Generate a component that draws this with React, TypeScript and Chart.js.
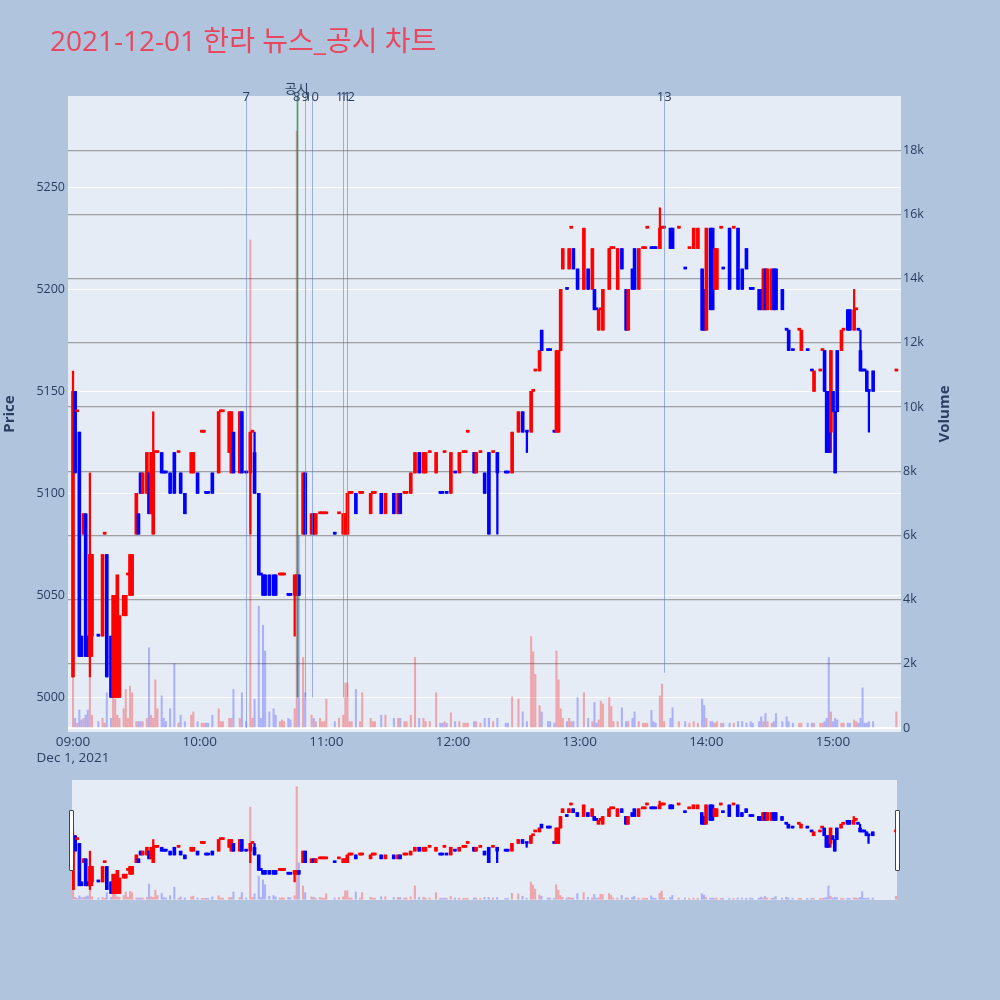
import React, { useEffect, useRef } from 'react';
import { Chart, registerables } from 'chart.js';

Chart.register(...registerables);

// ---------- data (minutes after 09:00) ----------
const chartTitle = '2021-12-01 한라 뉴스_공시 차트';

const minutes = [
  0, 1, 2, 3, 4, 5, 6, 7, 8, 9,
  12, 14, 15, 16, 18, 19, 20, 21, 22, 24,
  25, 26, 27, 28, 30, 31, 32, 33, 35, 36,
  37, 38, 39, 40, 42, 43, 44, 46, 48, 50,
  51, 53, 56, 57, 59, 61, 62, 63, 64, 66,
  69, 70, 71, 74, 75, 76, 79, 80, 82, 84,
  85, 86, 88, 89, 90, 91, 93, 95, 96, 98,
  99, 100, 102, 103, 105, 106, 107, 109, 110, 113,
  114, 115, 117, 118, 119, 120, 124, 126, 128, 129,
  130, 131, 132, 134, 136, 137, 141, 142, 143, 146,
  148, 152, 154, 155, 157, 158, 160, 162, 164, 166,
  167, 169, 172, 174, 175, 176, 177, 179, 181, 183,
  185, 186, 187, 190, 191, 193, 195, 197, 199, 201,
  205, 206, 208, 211, 213, 215, 217, 218, 219, 221,
  222, 225, 226, 228, 229, 230, 231, 232, 234, 235,
  236, 237, 239, 242, 244, 246, 247, 248, 249, 250,
  251, 254, 255, 256, 258, 260, 262, 263, 265, 266,
  268, 270, 271, 272, 274, 275, 276, 278, 279, 280,
  283, 284, 287, 290, 292, 294, 296, 298, 299, 300,
  302, 303, 304, 305, 307, 308, 311, 313, 315, 317,
  319, 321, 322, 325, 326, 327, 328, 329, 331, 332,
  333, 336, 338, 339, 341, 344, 345, 348, 350, 351,
  354, 355, 356, 357, 358, 359, 360, 361, 362, 364,
  365, 367, 368, 370, 371, 372, 373, 374, 375, 376,
  377, 379, 390,
];

const opens = [
  5010, 5150, 5140, 5130, 5030, 5080, 5090, 5030, 5020, 5030,
  5030, 5030, 5080, 5070, 5030, 5000, 5000, 5000, 5000, 5040,
  5040, 5060, 5050, 5050, 5080, 5090, 5110, 5100, 5100, 5110,
  5090, 5080, 5120, 5120, 5120, 5110, 5110, 5110, 5120, 5120,
  5110, 5100, 5110, 5110, 5110, 5130, 5130, 5100, 5100, 5110,
  5110, 5140, 5140, 5120, 5110, 5130, 5110, 5140, 5110, 5110,
  5130, 5120, 5100, 5060, 5060, 5060, 5060, 5060, 5060, 5060,
  5060, 5060, 5050, 5050, 5050, 5050, 5060, 5080, 5110, 5080,
  5090, 5080, 5090, 5090, 5090, 5090, 5080, 5090, 5080, 5080,
  5080, 5100, 5100, 5100, 5100, 5100, 5090, 5100, 5100, 5100,
  5090, 5100, 5090, 5100, 5100, 5100, 5100, 5110, 5120, 5110,
  5110, 5120, 5110, 5100, 5100, 5120, 5100, 5100, 5110, 5110,
  5120, 5120, 5130, 5120, 5110, 5120, 5110, 5120, 5120, 5120,
  5110, 5110, 5110, 5130, 5140, 5130, 5130, 5150, 5160, 5160,
  5180, 5170, 5170, 5130, 5130, 5130, 5170, 5210, 5200, 5210,
  5230, 5220, 5210, 5200, 5210, 5200, 5200, 5190, 5180, 5190,
  5180, 5200, 5220, 5220, 5200, 5220, 5200, 5180, 5210, 5220,
  5200, 5220, 5220, 5230, 5220, 5220, 5220, 5220, 5230, 5230,
  5230, 5230, 5230, 5210, 5220, 5220, 5220, 5210, 5200, 5180,
  5230, 5230, 5200, 5200, 5230, 5210, 5230, 5230, 5230, 5210,
  5220, 5200, 5200, 5200, 5200, 5190, 5210, 5190, 5190, 5210,
  5210, 5200, 5180, 5180, 5170, 5180, 5170, 5170, 5160, 5150,
  5160, 5170, 5170, 5150, 5150, 5130, 5150, 5140, 5170, 5170,
  5180, 5190, 5190, 5180, 5190, 5180, 5170, 5160, 5160, 5160,
  5150, 5160, 5160,
];

const highs = [
  5160, 5150, 5140, 5130, 5030, 5090, 5090, 5030, 5110, 5070,
  5030, 5070, 5080, 5070, 5030, 5050, 5050, 5060, 5040, 5050,
  5050, 5060, 5070, 5070, 5100, 5090, 5110, 5110, 5120, 5110,
  5120, 5140, 5120, 5120, 5120, 5110, 5110, 5110, 5120, 5120,
  5110, 5100, 5120, 5120, 5110, 5130, 5130, 5100, 5100, 5110,
  5140, 5140, 5140, 5140, 5140, 5130, 5140, 5140, 5110, 5130,
  5130, 5130, 5100, 5060, 5060, 5060, 5060, 5060, 5060, 5060,
  5060, 5060, 5050, 5050, 5060, 5060, 5060, 5110, 5110, 5090,
  5090, 5090, 5090, 5090, 5090, 5090, 5080, 5090, 5090, 5090,
  5100, 5100, 5100, 5100, 5100, 5100, 5100, 5100, 5100, 5100,
  5100, 5100, 5100, 5100, 5100, 5100, 5110, 5120, 5120, 5120,
  5120, 5120, 5120, 5100, 5100, 5120, 5100, 5120, 5110, 5120,
  5120, 5120, 5130, 5120, 5120, 5120, 5110, 5120, 5120, 5120,
  5110, 5110, 5130, 5140, 5140, 5130, 5150, 5150, 5160, 5170,
  5180, 5170, 5170, 5130, 5170, 5170, 5200, 5220, 5200, 5220,
  5230, 5220, 5210, 5230, 5210, 5220, 5200, 5190, 5190, 5190,
  5200, 5220, 5220, 5220, 5220, 5220, 5200, 5200, 5210, 5220,
  5220, 5220, 5220, 5230, 5220, 5220, 5220, 5240, 5230, 5230,
  5230, 5230, 5230, 5210, 5220, 5230, 5230, 5210, 5200, 5230,
  5230, 5230, 5220, 5220, 5230, 5210, 5230, 5230, 5230, 5210,
  5220, 5200, 5200, 5200, 5200, 5210, 5210, 5210, 5210, 5210,
  5210, 5200, 5180, 5180, 5170, 5180, 5180, 5170, 5160, 5160,
  5160, 5170, 5170, 5150, 5150, 5170, 5150, 5140, 5170, 5180,
  5180, 5190, 5190, 5200, 5190, 5180, 5180, 5160, 5160, 5160,
  5150, 5160, 5160,
];

const lows = [
  5010, 5110, 5140, 5020, 5020, 5080, 5020, 5020, 5010, 5020,
  5030, 5030, 5080, 5010, 5000, 5000, 5000, 5000, 5000, 5040,
  5040, 5060, 5050, 5050, 5080, 5080, 5100, 5100, 5100, 5090,
  5090, 5080, 5120, 5120, 5110, 5110, 5110, 5100, 5100, 5120,
  5100, 5090, 5110, 5110, 5100, 5130, 5130, 5100, 5100, 5100,
  5110, 5140, 5140, 5120, 5110, 5110, 5110, 5110, 5110, 5080,
  5130, 5100, 5060, 5060, 5050, 5050, 5050, 5050, 5050, 5060,
  5060, 5060, 5050, 5050, 5030, 5050, 5050, 5080, 5080, 5080,
  5080, 5080, 5090, 5090, 5090, 5090, 5080, 5090, 5080, 5080,
  5080, 5100, 5100, 5090, 5100, 5100, 5090, 5100, 5100, 5090,
  5090, 5090, 5090, 5090, 5100, 5100, 5100, 5110, 5110, 5110,
  5110, 5120, 5110, 5100, 5100, 5120, 5100, 5100, 5110, 5110,
  5120, 5120, 5130, 5110, 5110, 5120, 5100, 5080, 5120, 5080,
  5110, 5110, 5110, 5130, 5130, 5120, 5130, 5150, 5160, 5160,
  5170, 5170, 5170, 5130, 5130, 5130, 5170, 5210, 5200, 5210,
  5230, 5210, 5200, 5200, 5200, 5200, 5190, 5190, 5180, 5190,
  5180, 5200, 5220, 5220, 5200, 5210, 5180, 5180, 5200, 5200,
  5200, 5220, 5220, 5230, 5220, 5220, 5220, 5220, 5230, 5230,
  5220, 5220, 5230, 5210, 5220, 5220, 5220, 5180, 5180, 5180,
  5190, 5190, 5200, 5200, 5230, 5210, 5200, 5230, 5200, 5200,
  5210, 5200, 5200, 5190, 5190, 5190, 5190, 5190, 5190, 5190,
  5190, 5190, 5180, 5170, 5170, 5180, 5170, 5170, 5160, 5150,
  5160, 5170, 5150, 5120, 5120, 5120, 5140, 5110, 5140, 5170,
  5180, 5180, 5180, 5180, 5190, 5180, 5160, 5160, 5160, 5150,
  5130, 5150, 5160,
];

const closes = [
  5150, 5110, 5140, 5020, 5020, 5090, 5020, 5020, 5070, 5070,
  5030, 5070, 5080, 5010, 5000, 5050, 5040, 5060, 5040, 5050,
  5050, 5060, 5070, 5070, 5100, 5080, 5100, 5110, 5120, 5090,
  5120, 5120, 5120, 5120, 5110, 5110, 5110, 5100, 5100, 5120,
  5100, 5090, 5120, 5120, 5100, 5130, 5130, 5100, 5100, 5100,
  5140, 5140, 5140, 5140, 5140, 5110, 5140, 5110, 5110, 5130,
  5130, 5100, 5060, 5060, 5050, 5050, 5050, 5050, 5050, 5060,
  5060, 5060, 5050, 5050, 5060, 5060, 5050, 5110, 5080, 5090,
  5080, 5090, 5090, 5090, 5090, 5090, 5080, 5090, 5090, 5090,
  5100, 5100, 5100, 5090, 5100, 5100, 5100, 5100, 5100, 5090,
  5100, 5090, 5100, 5090, 5100, 5100, 5110, 5120, 5110, 5120,
  5120, 5120, 5120, 5100, 5100, 5120, 5100, 5120, 5110, 5120,
  5120, 5120, 5130, 5110, 5120, 5120, 5100, 5080, 5120, 5110,
  5110, 5110, 5130, 5140, 5130, 5130, 5150, 5150, 5160, 5170,
  5170, 5170, 5170, 5130, 5170, 5170, 5200, 5220, 5200, 5220,
  5230, 5210, 5200, 5230, 5200, 5220, 5190, 5190, 5190, 5190,
  5200, 5220, 5220, 5220, 5220, 5210, 5180, 5200, 5200, 5200,
  5220, 5220, 5220, 5230, 5220, 5220, 5220, 5230, 5230, 5230,
  5220, 5220, 5230, 5210, 5220, 5230, 5230, 5180, 5180, 5230,
  5190, 5190, 5220, 5220, 5230, 5210, 5200, 5230, 5200, 5200,
  5210, 5200, 5200, 5190, 5190, 5210, 5190, 5210, 5210, 5190,
  5190, 5190, 5180, 5170, 5170, 5180, 5180, 5170, 5160, 5160,
  5160, 5170, 5150, 5120, 5120, 5170, 5140, 5110, 5140, 5180,
  5180, 5180, 5180, 5190, 5190, 5180, 5160, 5160, 5160, 5150,
  5150, 5150, 5160,
];

const volumes = [
  3900, 300, 150, 560, 250, 300, 400, 560, 1600, 400,
  200, 300, 150, 1100, 300, 1100, 900, 400, 300, 600,
  1200, 300, 1300, 1100, 200, 200, 200, 200, 300, 2500,
  400, 300, 1500, 600, 1000, 300, 200, 600, 2000, 150,
  400, 200, 400, 500, 200, 150, 150, 150, 150, 400,
  600, 200, 200, 300, 300, 1200, 300, 1100, 200, 15200,
  300, 900, 3800, 300, 3200, 2400, 500, 600, 400, 200,
  250, 200, 300, 250, 600, 18600, 6000, 2200, 1100, 400,
  300, 200, 300, 200, 200, 900, 200, 300, 400, 1400,
  1400, 200, 200, 1200, 200, 1100, 300, 200, 200, 400,
  400, 300, 300, 300, 200, 200, 400, 2200, 300, 300,
  200, 200, 1100, 150, 150, 200, 150, 470, 200, 200,
  150, 150, 150, 200, 200, 150, 300, 300, 200, 300,
  150, 150, 970, 900, 500, 200, 2850, 2370, 1670, 700,
  500, 200, 200, 150, 2400, 1500, 600, 300, 200, 300,
  200, 200, 950, 1100, 300, 200, 800, 150, 250, 840,
  750, 950, 670, 200, 200, 630, 200, 200, 300, 500,
  200, 150, 150, 150, 550, 200, 150, 1000, 1370, 200,
  300, 630, 200, 200, 150, 200, 150, 900, 700, 300,
  200, 200, 150, 200, 150, 150, 150, 150, 200, 200,
  150, 200, 150, 200, 350, 200, 450, 200, 150, 200,
  450, 200, 350, 200, 150, 150, 150, 150, 150, 150,
  150, 150, 200, 300, 2200, 500, 200, 300, 250, 150,
  150, 150, 150, 250, 200, 150, 300, 1250, 150, 150,
  200, 200, 500,
];

// axis ticks
const hourTicks = [0, 60, 120, 180, 240, 300, 360];
const hourLabels = ['09:00', '10:00', '11:00', '12:00', '13:00', '14:00', '15:00'];
const dateLabel = 'Dec 1, 2021';
const priceTicks = [5000, 5050, 5100, 5150, 5200, 5250];
const volumeTicks = [0, 2000, 4000, 6000, 8000, 10000, 12000, 14000, 16000, 18000];

// news / disclosure markers
const newsMinutes = [82, 106, 110, 113, 128, 130, 280, 106];
const newsLabels = ['7', '8', '9', '10', '11', '12', '13', '공시'];
const newsEnds = [4985, 5000, 5000, 5000, 5000, 5000, 5012, 5000];
const newsIsDisclosure = [false, false, false, false, false, false, false, true];

// ranges
const X_MIN = -2.37;
const X_MAX = 392.2;
const SLIDER_X_MIN = -0.5;
const SLIDER_X_MAX = 390.5;
const PRICE_MIN = 4983;
const PRICE_MAX = 5294.8;
const VOL_MIN = -125;
const VOL_MAX = 19690;

const FONT = '"Open Sans", "Noto Sans CJK KR", sans-serif';
const TEXT = '#2a3f5f';
const UP = '#ff0000';
const DOWN = '#0000ff';
const UP_VOL = 'rgba(255,0,0,0.3)';
const DOWN_VOL = 'rgba(0,0,255,0.25)';

// plotly-like direction rule
const rising: boolean[] = (() => {
  const out: boolean[] = [];
  let last = true;
  for (let i = 0; i < closes.length; i++) {
    const o = opens[i];
    const c = closes[i];
    let up: boolean;
    if (c > o) up = true;
    else if (c < o) up = false;
    else {
      const pc = i > 0 ? closes[i - 1] : null;
      up = pc === null || pc === c ? last : c > pc;
    }
    out.push(up);
    last = up;
  }
  return out;
})();

function buildDatasets(): any[] {
  return [
    {
      type: 'bar',
      label: 'Volume',
      yAxisID: 'y1',
      data: minutes.map((m, i) => ({ x: m, y: volumes[i] })),
      backgroundColor: rising.map((u) => (u ? UP_VOL : DOWN_VOL)),
      barThickness: 1.4,
      grouped: false,
      order: 0,
    },
    {
      type: 'bar',
      label: 'Body',
      yAxisID: 'y',
      data: minutes.map((m, i) => ({ x: m, y: [opens[i], closes[i]] })),
      backgroundColor: rising.map((u) => (u ? UP : DOWN)),
      barThickness: 3,
      minBarLength: 2,
      grouped: false,
      order: 1,
    },
    {
      type: 'bar',
      label: 'Wick',
      yAxisID: 'y',
      data: minutes.map((m, i) => ({ x: m, y: [lows[i], highs[i]] })),
      backgroundColor: rising.map((u) => (u ? UP : DOWN)),
      barThickness: 1.6,
      grouped: false,
      order: 2,
    },
  ];
}

const bgPlugin = {
  id: 'plotBg',
  beforeDraw(chart: any) {
    const { ctx, chartArea } = chart;
    ctx.save();
    ctx.fillStyle = '#e5ecf6';
    ctx.fillRect(chartArea.left, chartArea.top, chartArea.right - chartArea.left, chartArea.bottom - chartArea.top);
    ctx.restore();
  },
};

const overlayPlugin = {
  id: 'overlay',
  afterDatasetsDraw(chart: any) {
    const { ctx, chartArea, scales } = chart;
    ctx.save();
    newsMinutes.forEach((m, i) => {
      const x = Math.round(scales.x.getPixelForValue(m)) + 0.5;
      const yEnd = scales.y.getPixelForValue(newsEnds[i]);
      ctx.beginPath();
      ctx.strokeStyle = newsIsDisclosure[i] ? 'rgba(0,128,60,0.5)' : 'rgba(100,130,220,0.6)';
      ctx.lineWidth = newsIsDisclosure[i] ? 2 : 1;
      ctx.moveTo(x, chartArea.top);
      ctx.lineTo(x, yEnd);
      ctx.stroke();
    });
    ctx.restore();
  },
  afterDraw(chart: any) {
    const { ctx, chartArea, scales } = chart;
    ctx.save();
    // marker labels
    ctx.fillStyle = TEXT;
    ctx.textAlign = 'center';
    ctx.textBaseline = 'middle';
    newsMinutes.forEach((m, i) => {
      const x = scales.x.getPixelForValue(m);
      ctx.font = `13px ${FONT}`;
      const y = newsIsDisclosure[i] ? chartArea.top - 7 : chartArea.top + 1;
      ctx.fillText(newsLabels[i], x, y);
    });
    // axis titles
    const cy = (chartArea.top + chartArea.bottom) / 2;
    ctx.font = `bold 15px ${FONT}`;
    ctx.save();
    ctx.translate(chartArea.left - 58, cy);
    ctx.rotate(-Math.PI / 2);
    ctx.fillText('Price', 0, 0);
    ctx.restore();
    ctx.save();
    ctx.translate(chartArea.right + 44, cy);
    ctx.rotate(-Math.PI / 2);
    ctx.fillText('Volume', 0, 0);
    ctx.restore();
    // chart title
    ctx.font = `28px ${FONT}`;
    ctx.fillStyle = '#e8485f';
    ctx.textAlign = 'left';
    ctx.textBaseline = 'alphabetic';
    ctx.fillText(chartTitle, 50, 50.5);
    ctx.restore();
  },
};

export default function App() {
  const mainRef = useRef<HTMLCanvasElement>(null);
  const sliderRef = useRef<HTMLCanvasElement>(null);

  useEffect(() => {
    Chart.defaults.font.family = FONT;
    const tickFont = { family: FONT, size: 12.5 };

    const main = new Chart(mainRef.current as HTMLCanvasElement, {
      type: 'bar',
      data: { datasets: buildDatasets() },
      options: {
        animation: false,
        responsive: false,
        maintainAspectRatio: false,
        layout: { padding: { top: 96, left: 0, right: 0, bottom: 0 } },
        plugins: { legend: { display: false }, tooltip: { enabled: false } },
        scales: {
          x: {
            type: 'linear',
            min: X_MIN,
            max: X_MAX,
            offset: false,
            grid: { display: false, drawTicks: false },
            border: { display: false },
            afterBuildTicks: (s: any) => {
              s.ticks = hourTicks.map((v) => ({ value: v }));
            },
            afterFit: (s: any) => {
              s.height = 48;
            },
            ticks: {
              autoSkip: false,
              maxRotation: 0,
              padding: 2,
              color: TEXT,
              font: { family: FONT, size: 13.5, lineHeight: 16 / 13.5 },
              callback: (v: any) => {
                const i = hourTicks.indexOf(Number(v));
                if (i < 0) return '';
                return i === 0 ? [hourLabels[0], dateLabel] : hourLabels[i];
              },
            },
          },
          y: {
            type: 'linear',
            position: 'left',
            min: PRICE_MIN,
            max: PRICE_MAX,
            grid: { color: '#ffffff', lineWidth: 1, drawTicks: false },
            border: { display: false },
            afterBuildTicks: (s: any) => {
              s.ticks = priceTicks.map((v) => ({ value: v }));
            },
            afterFit: (s: any) => {
              s.width = 68;
            },
            ticks: {
              padding: 3,
              color: TEXT,
              font: tickFont,
              callback: (v: any) => String(v),
            },
          },
          y1: {
            type: 'linear',
            position: 'right',
            min: VOL_MIN,
            max: VOL_MAX,
            grid: {
              color: (c: any) => (c.tick && c.tick.value === 0 ? '#ffffff' : 'rgba(120,120,120,0.65)'),
              lineWidth: (c: any) => (c.tick && c.tick.value === 0 ? 2 : 1.3),
              drawTicks: false,
            },
            border: { display: false },
            afterBuildTicks: (s: any) => {
              s.ticks = volumeTicks.map((v) => ({ value: v }));
            },
            afterFit: (s: any) => {
              s.width = 99;
            },
            ticks: {
              padding: 2,
              color: TEXT,
              font: tickFont,
              callback: (v: any) => (Number(v) === 0 ? '0' : `${Number(v) / 1000}k`),
            },
          },
        },
      } as any,
      plugins: [bgPlugin, overlayPlugin],
    } as any);

    const slider = new Chart(sliderRef.current as HTMLCanvasElement, {
      type: 'bar',
      data: { datasets: buildDatasets() },
      options: {
        animation: false,
        responsive: false,
        maintainAspectRatio: false,
        layout: { padding: 0 },
        plugins: { legend: { display: false }, tooltip: { enabled: false } },
        scales: {
          x: { type: 'linear', display: false, min: SLIDER_X_MIN, max: SLIDER_X_MAX, offset: false },
          y: { type: 'linear', display: false, min: PRICE_MIN, max: PRICE_MAX },
          y1: { type: 'linear', display: false, min: VOL_MIN, max: VOL_MAX },
        },
      } as any,
      plugins: [bgPlugin],
    } as any);

    return () => {
      main.destroy();
      slider.destroy();
    };
  }, []);

  const handle: React.CSSProperties = {
    position: 'absolute',
    top: 810,
    width: 3,
    height: 59,
    background: '#ffffff',
    border: '1px solid #444444',
    borderRadius: 1,
  };

  return (
    <div
      style={{
        position: 'absolute',
        left: 0,
        top: 0,
        width: 1000,
        height: 1000,
        background: '#b0c4de',
        overflow: 'hidden',
      }}
    >
      <canvas ref={mainRef} width={1000} height={780} style={{ position: 'absolute', left: 0, top: 0 }} />
      <canvas ref={sliderRef} width={825} height={120} style={{ position: 'absolute', left: 72, top: 780 }} />
      <div style={{ ...handle, left: 69 }} />
      <div style={{ ...handle, left: 895 }} />
    </div>
  );
}
